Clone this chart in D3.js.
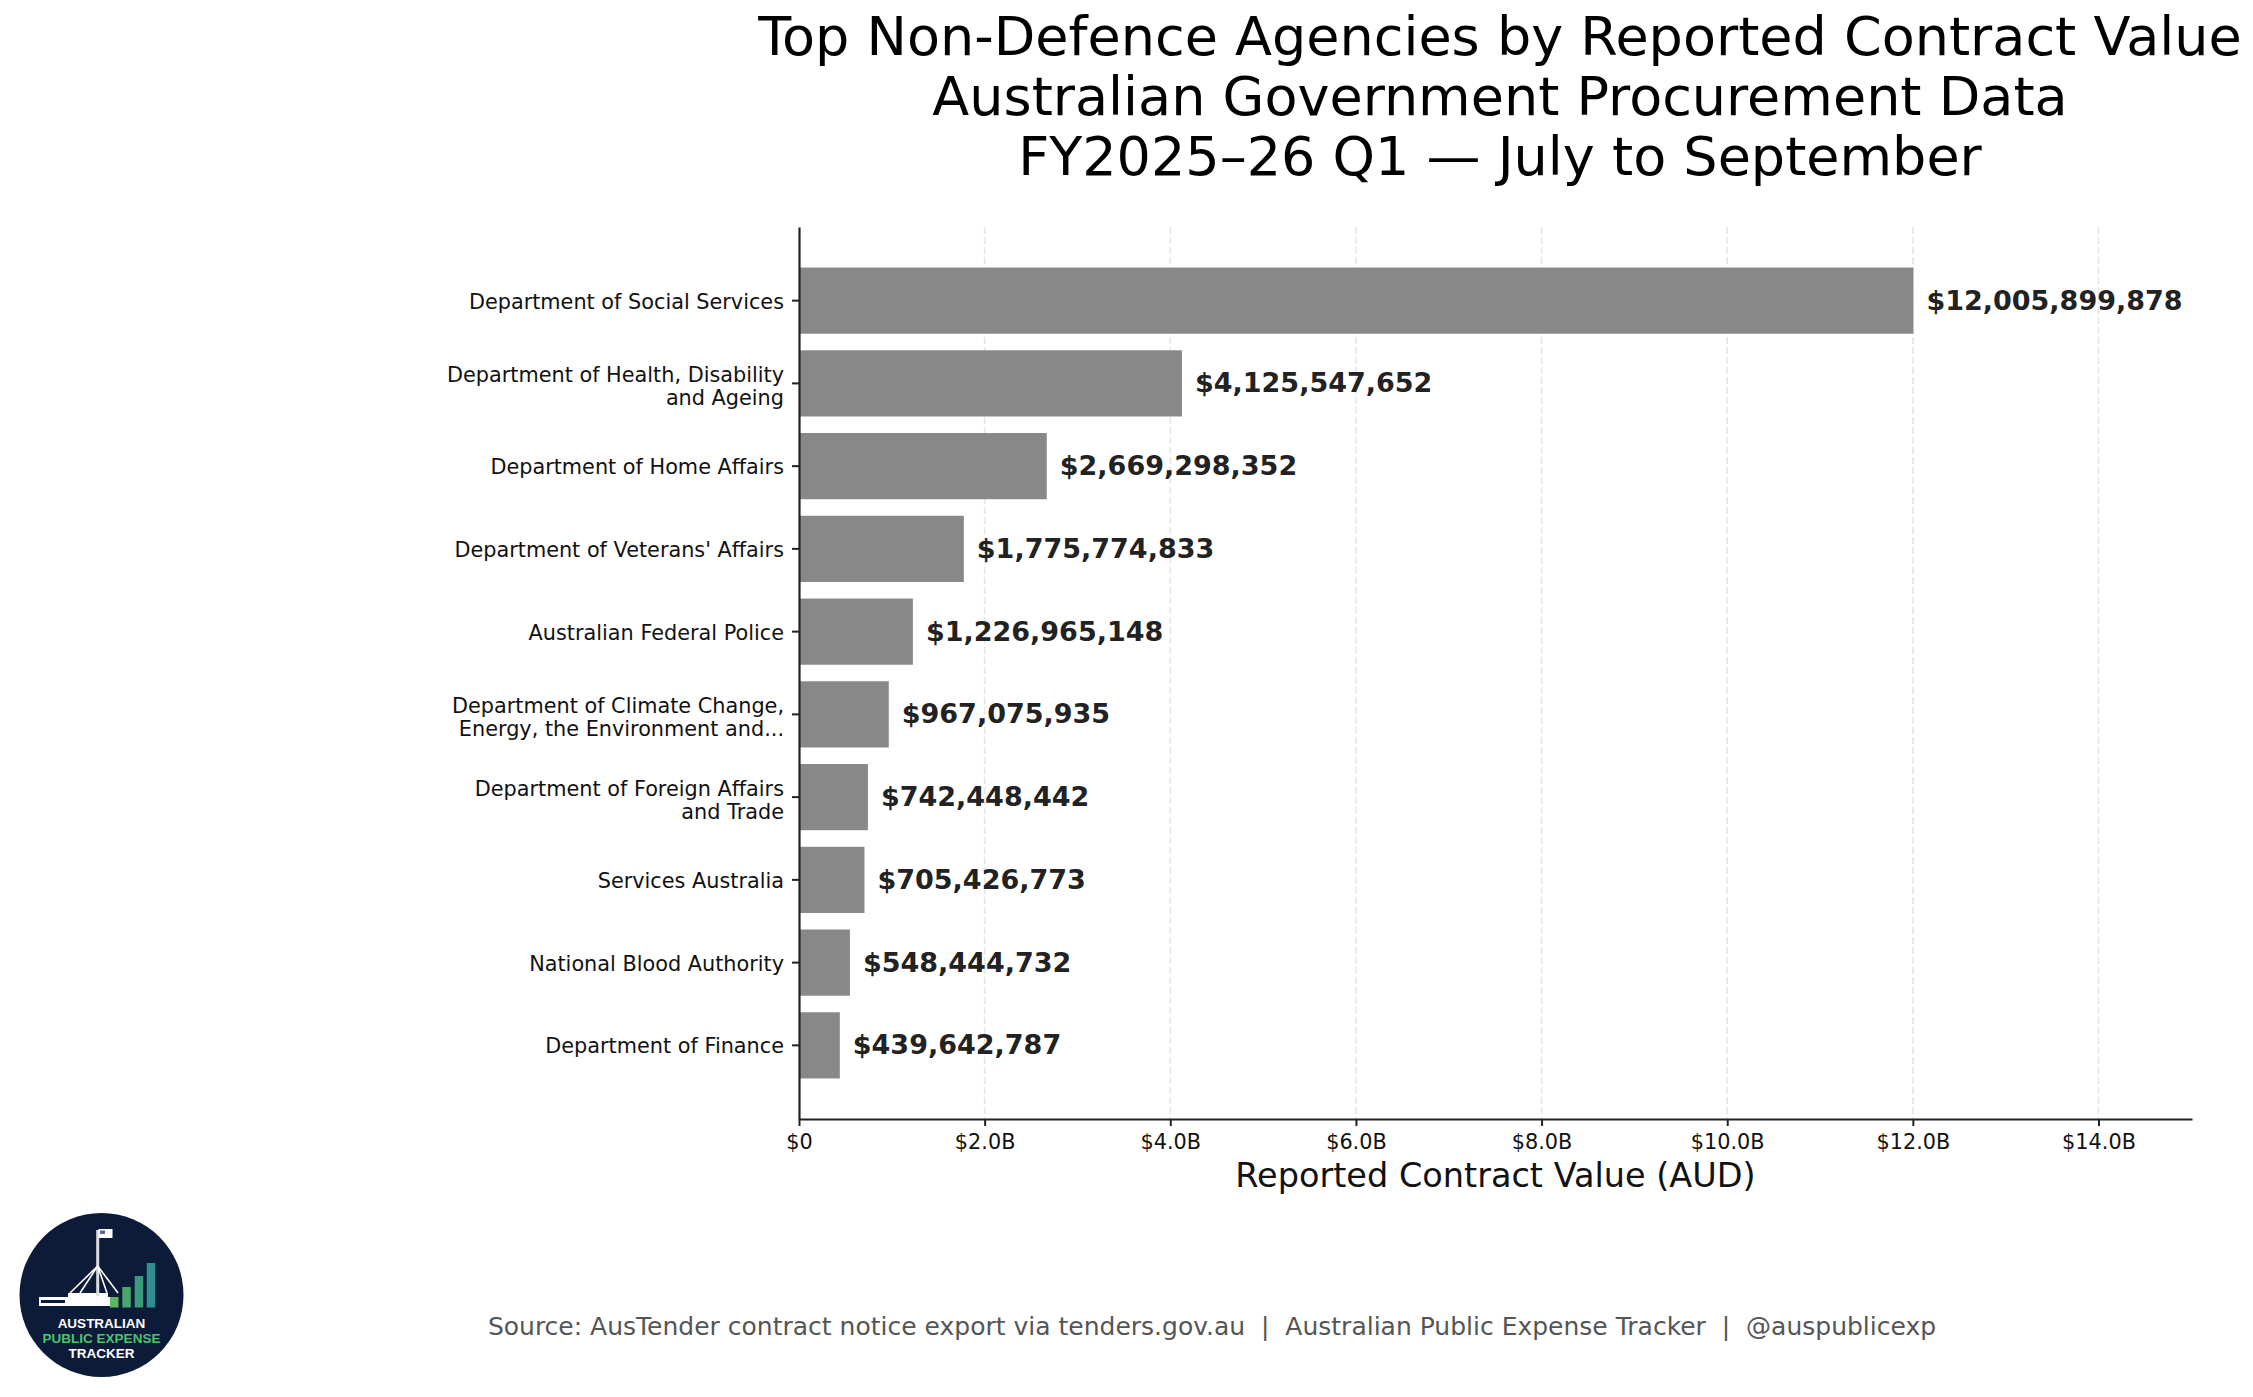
<!DOCTYPE html>
<html>
<head>
<meta charset="utf-8">
<script src="https://cdn.jsdelivr.net/npm/d3@7"></script>
<style>
  body { margin: 0; background: #fff; }
  svg { display: block; font-family: 'DejaVu Sans', sans-serif; }
  .axis text { font-family: 'DejaVu Sans', sans-serif; fill: #111; }
  .axis .domain, .axis line { stroke: #222; }
</style>
</head>
<body>
<div id="chart"></div>
<script>
const agencies = [
  'Department of Social Services',
  'Department of Health, Disability\nand Ageing',
  'Department of Home Affairs',
  "Department of Veterans' Affairs",
  'Australian Federal Police',
  'Department of Climate Change,\nEnergy, the Environment and...',
  'Department of Foreign Affairs\nand Trade',
  'Services Australia',
  'National Blood Authority',
  'Department of Finance'
]
const contractValues = [
  12005899878, 4125547652, 2669298352, 1775774833, 1226965148,
  967075935, 742448442, 705426773, 548444732, 439642787
]
const xTickValues = [0, 2e9, 4e9, 6e9, 8e9, 10e9, 12e9, 14e9]
const xTickLabels = ['$0', '$2.0B', '$4.0B', '$6.0B', '$8.0B', '$10.0B', '$12.0B', '$14.0B']
const titleLines = [
  'Top Non-Defence Agencies by Reported Contract Value',
  'Australian Government Procurement Data',
  'FY2025\u201326 Q1 \u2014 July to September'
]
const footerText = 'Source: AusTender contract notice export via tenders.gov.au  |  Australian Public Expense Tracker  |  @auspublicexp'

const width = 2253
const height = 1397
const plotLeft = 799, plotRight = 2192, plotTop = 227, plotBottom = 1119

const data = agencies.map((name, i) => ({name: name, value: contractValues[i]}))

const svg = d3.select('#chart').append('svg')
  .attr('width', width)
  .attr('height', height)

const x = d3.scaleLinear()
  .domain([0, d3.max(contractValues) * 1.25])
  .range([plotLeft, plotRight])

const y = d3.scaleBand()
  .domain(agencies)
  .range([plotTop, plotBottom])
  .paddingInner(0.2)
  .paddingOuter(0.49)

// grid
svg.append('g')
  .attr('class', 'grid')
  .selectAll('line')
  .data(xTickValues.slice(1))
  .enter()
  .append('line')
  .attr('x1', d => x(d)).attr('x2', d => x(d))
  .attr('y1', plotTop).attr('y2', plotBottom)
  .attr('stroke', '#e6e6e6')
  .attr('stroke-width', 1.6)
  .attr('stroke-dasharray', '7,3');

// bars
svg.append('g')
  .attr('class', 'bars')
  .selectAll('.bar')
  .data(data)
  .enter()
  .append('rect')
  .attr('class', 'bar')
  .attr('x', x(0))
  .attr('y', d => y(d.name))
  .attr('width', d => x(d.value) - x(0))
  .attr('height', y.bandwidth())
  .attr('fill', '#888888');

// value labels
svg.append('g')
  .attr('class', 'values')
  .selectAll('text')
  .data(data)
  .enter()
  .append('text')
  .attr('x', d => x(d.value) + 13)
  .attr('y', d => y(d.name) + y.bandwidth() / 2 + 9)
  .attr('font-size', '27px')
  .attr('font-weight', 'bold')
  .attr('fill', '#222')
  .text(d => '$' + d3.format(',')(d.value));

// axes
const xAxis = d3.axisBottom(x)
  .tickValues(xTickValues)
  .tickFormat((d, i) => xTickLabels[i])
  .tickSize(7)
  .tickPadding(8)
  .tickSizeOuter(0)

const gx = svg.append('g')
  .attr('class', 'axis x')
  .attr('transform', 'translate(0,' + plotBottom + ')')
  .call(xAxis)
gx.selectAll('text').attr('font-size', '20.8px')
gx.select('.domain').attr('stroke-width', 2.2)
gx.selectAll('.tick line').attr('stroke-width', 2)

const yAxis = d3.axisLeft(y)
  .tickSize(7)
  .tickSizeOuter(0)
  .tickFormat('')

const gy = svg.append('g')
  .attr('class', 'axis y')
  .attr('transform', 'translate(' + plotLeft + ',0)')
  .call(yAxis)
gy.select('.domain').attr('stroke-width', 2.2)
gy.selectAll('.tick line').attr('stroke-width', 2)

// y labels (multi-line)
svg.append('g')
  .attr('class', 'ylabels')
  .selectAll('text')
  .data(agencies)
  .enter()
  .append('text')
  .attr('text-anchor', 'end')
  .attr('font-size', '20.8px')
  .attr('fill', '#111')
  .each(function(d) {
    const lines = d.split('\n')
    const c = y(d) + y.bandwidth() / 2
    const t = d3.select(this)
    const start = lines.length === 1 ? c + 8 : c - 1.3
    lines.forEach((line, i) => {
      t.append('tspan')
        .attr('x', 784)
        .attr('y', start + i * 23.4)
        .text(line)
    })
  });

// x label
svg.append('text')
  .attr('x', (plotLeft + plotRight) / 2)
  .attr('y', 1187)
  .attr('text-anchor', 'middle')
  .attr('font-size', '33.5px')
  .attr('fill', '#111')
  .text('Reported Contract Value (AUD)');

// title
svg.append('g')
  .attr('class', 'title')
  .selectAll('text')
  .data(titleLines)
  .enter()
  .append('text')
  .attr('x', 1500)
  .attr('y', (d, i) => 55 + i * 60)
  .attr('text-anchor', 'middle')
  .attr('font-size', '54px')
  .attr('fill', '#000')
  .text(d => d);

// footer
svg.append('text')
  .attr('x', 1212)
  .attr('y', 1335)
  .attr('text-anchor', 'middle')
  .attr('font-size', '25px')
  .attr('fill', '#555')
  .attr('xml:space', 'preserve')
  .style('white-space', 'pre')
  .text(footerText);

// logo badge
const logo = svg.append('g').attr('class', 'logo')
logo.append('circle')
  .attr('cx', 101.5).attr('cy', 1295).attr('r', 82)
  .attr('fill', '#0b1b38');

// parliament house silhouette
logo.append('rect').attr('x', 39).attr('y', 1297).attr('width', 71).attr('height', 9).attr('fill', '#fff');
logo.append('rect').attr('x', 41).attr('y', 1300).attr('width', 24).attr('height', 3).attr('fill', '#0b1b38');
logo.append('rect').attr('x', 68).attr('y', 1293).attr('width', 40).attr('height', 5).attr('fill', '#fff');
logo.append('line').attr('x1', 97.7).attr('x2', 97.7).attr('y1', 1230).attr('y2', 1296)
  .attr('stroke', '#ddd').attr('stroke-width', 3);
logo.append('rect').attr('x', 98.5).attr('y', 1229).attr('width', 14).attr('height', 9).attr('fill', '#fff');
logo.append('rect').attr('x', 100).attr('y', 1230.5).attr('width', 5).attr('height', 3.5).attr('fill', '#5a6a8a');
;[70, 80, 107, 118].forEach(bx => {
  logo.append('line').attr('x1', 97.7).attr('y1', 1266).attr('x2', bx).attr('y2', 1293)
    .attr('stroke', '#fff').attr('stroke-width', 1.6);
});

// little bar icon
const logoBars = [
  {x: 110, top: 1297, fill: '#5cb85c'},
  {x: 122.3, top: 1287, fill: '#4aa66a'},
  {x: 134.7, top: 1276, fill: '#3a9a7a'},
  {x: 146.7, top: 1263, fill: '#2f8f8f'}
]
logo.selectAll('.lbar').data(logoBars).enter().append('rect')
  .attr('class', 'lbar')
  .attr('x', d => d.x).attr('y', d => d.top)
  .attr('width', 8.5).attr('height', d => 1307.5 - d.top)
  .attr('fill', d => d.fill);

const logoText = [
  {t: 'AUSTRALIAN', y: 1328, fill: '#fff'},
  {t: 'PUBLIC EXPENSE', y: 1343, fill: '#4cc46a'},
  {t: 'TRACKER', y: 1358, fill: '#fff'}
]
logo.selectAll('.ltxt').data(logoText).enter().append('text')
  .attr('class', 'ltxt')
  .attr('x', 101.5).attr('y', d => d.y)
  .attr('text-anchor', 'middle')
  .attr('font-family', "'Liberation Sans', Arial, sans-serif")
  .attr('font-weight', 'bold')
  .attr('font-size', '13.5px')
  .attr('fill', d => d.fill)
  .text(d => d.t);
</script>
</body>
</html>
